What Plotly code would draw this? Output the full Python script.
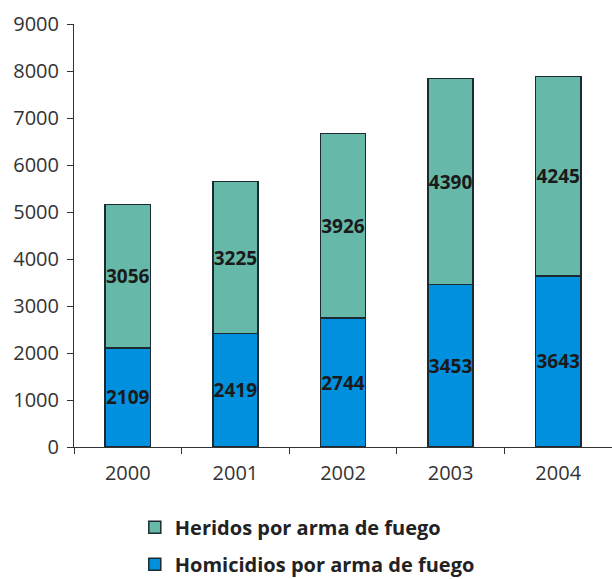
import plotly.graph_objects as go

years = ["2000", "2001", "2002", "2003", "2004"]
homicidios = [2109, 2419, 2744, 3453, 3643]
heridos = [3056, 3225, 3926, 4390, 4245]

series_names = ["Homicidios por arma de fuego", "Heridos por arma de fuego"]
y_ticks = [0, 1000, 2000, 3000, 4000, 5000, 6000, 7000, 8000, 9000]

FONT = "Open Sans, Noto Sans, DejaVu Sans, sans-serif"
BLUE = "#0090DE"
TEAL = "#66B8A9"
EDGE = "#1c2b31"

fig = go.Figure()
for name, vals, color, grp, rank in [
    (series_names[0], homicidios, BLUE, "b", 2),
    (series_names[1], heridos, TEAL, "a", 1),
]:
    fig.add_trace(go.Bar(
        x=years, y=vals, name=name, legendgroup=grp, legendrank=rank,
        marker=dict(color=color, line=dict(color=EDGE, width=1.5)),
        text=vals, texttemplate="%{text}", textposition="inside",
        insidetextanchor="middle", constraintext="none", textangle=0,
        textfont=dict(family=FONT, size=19, color="#1a1a1a", weight="bold"),
        width=0.42,
    ))

fig.update_layout(
    barmode="stack",
    width=612, height=579,
    margin=dict(l=74, r=0, t=24, b=132, autoexpand=False),
    plot_bgcolor="white", paper_bgcolor="white",
    font=dict(family=FONT, size=20, color="#333333"),
    showlegend=True,
    legend=dict(
        orientation="v", x=0.113, xanchor="left",
        yref="container", y=0.123, yanchor="top",
        traceorder="grouped", tracegroupgap=8,
        font=dict(family=FONT, size=20, color="#222222", weight="bold"),
        bgcolor="rgba(0,0,0,0)",
    ),
    xaxis=dict(
        type="category", showline=True, linecolor="#333333", linewidth=1,
        ticks="outside", tickson="boundaries", ticklen=6, tickcolor="#333333",
        showgrid=False, tickfont=dict(size=20, color="#333333"),
        ticklabelstandoff=8,
    ),
    yaxis=dict(
        range=[0, 9000], tickvals=y_ticks, showline=True, linecolor="#333333",
        linewidth=1, ticks="outside", ticklen=6, tickcolor="#333333",
        showgrid=False, zeroline=False, tickfont=dict(size=20, color="#333333"),
        ticklabelstandoff=4,
    ),
)

fig.write_html("out.html")
